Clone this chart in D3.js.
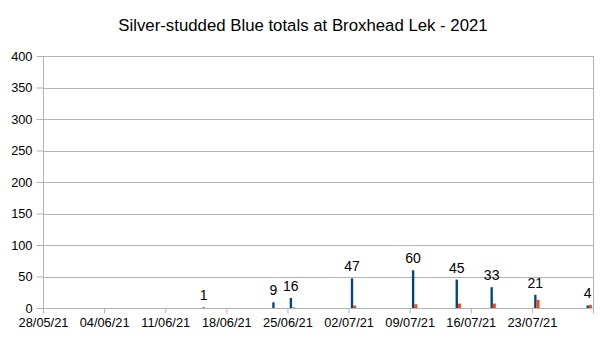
<!DOCTYPE html>
<html>
<head>
<meta charset="utf-8">
<script src="https://cdn.jsdelivr.net/npm/d3@7"></script>
<style>
  body { margin: 0; background: #fff; }
  svg text { font-family: "Liberation Sans", Arial, sans-serif; fill: #000; }
  .grid line, .axis line, .axis path { stroke: #b3b3b3; }
</style>
</head>
<body>
<div id="canvas"></div>
<script>
// counts per survey date
var dates = ["2021-06-15","2021-06-23","2021-06-25","2021-07-02","2021-07-09","2021-07-14","2021-07-18","2021-07-23","2021-07-29"];
var blueVals = [1, 9, 16, 47, 60, 45, 33, 21, 4];
var orangeVals = [0, 0, 1, 4, 6, 7, 7, 13, 5];
var yTicks = [0, 50, 100, 150, 200, 250, 300, 350, 400];
var xStart = "2021-05-28", xEnd = "2021-07-30";
var title = "Silver-studded Blue totals at Broxhead Lek - 2021";

var W = 604, H = 340;
var m = {t:56, r:11, b:32, l:43},
    w = W - m.l - m.r,
    h = H - m.t - m.b;

var parse = d3.utcParse("%Y-%m-%d"),
    fmt = d3.utcFormat("%d/%m/%y");

var svg = d3.select("#canvas").append("svg")
    .attr("width", W).attr("height", H);

svg.append("text")
    .attr("x", W/2 + 1).attr("y", 31)
    .attr("text-anchor", "middle")
    .style("font-size", "16.8px")
    .text(title);

var plot = svg.append("g")
    .attr("transform", "translate(" + m.l + "," + m.t + ")");

var x = d3.scaleUtc().domain([parse(xStart), parse(xEnd)]).range([0, w]);
var y = d3.scaleLinear().domain([0, 400]).range([h, 0]);

// gridlines
plot.append("g").attr("class", "grid")
    .selectAll("line").data(yTicks).enter().append("line")
    .attr("x1", 0).attr("x2", w)
    .attr("y1", function(d){ return Math.round(y(d)) + 0.5; })
    .attr("y2", function(d){ return Math.round(y(d)) + 0.5; });

// right border
plot.append("line")
    .attr("x1", w + 0.5).attr("x2", w + 0.5)
    .attr("y1", 0).attr("y2", h)
    .style("stroke", "#b3b3b3");

// y axis
var yAxis = plot.append("g").attr("class", "axis")
    .attr("transform", "translate(0.5,0)")
    .call(d3.axisLeft(y).tickValues(yTicks).tickSize(7).tickPadding(4));
yAxis.select(".domain").remove();
yAxis.append("line").attr("y1", 0).attr("y2", h).style("stroke", "#b3b3b3");
yAxis.selectAll("text").style("font-size", "12.8px");

// x axis, weekly ticks
var xTicks = d3.utcDay.range(parse(xStart), d3.utcDay.offset(parse(xEnd), 1), 7);
var xAxis = plot.append("g").attr("class", "axis")
    .attr("transform", "translate(0," + (h + 0.5) + ")")
    .call(d3.axisBottom(x).tickValues(xTicks).tickSize(5).tickPadding(4)
        .tickFormat(function(d, i){ return i < xTicks.length - 1 ? fmt(d) : ""; }));
xAxis.select(".domain").attr("d", "M0,0H" + w);
xAxis.selectAll("text").style("font-size", "12.8px");

var data = dates.map(function(d, i){
    return {date: parse(d), b: blueVals[i], o: orangeVals[i]};
});

var dayW = x(d3.utcDay.offset(parse(xStart), 1)) - x(parse(xStart));

var nodes = plot.selectAll(".node").data(data).enter()
    .append("g").attr("class", "node")
    .attr("transform", function(d){ return "translate(" + x(d.date) + ",0)"; });

nodes.append("rect")
    .attr("x", dayW * 0.26).attr("width", dayW * 0.27)
    .attr("y", function(d){ return y(d.b); })
    .attr("height", function(d){ return h - y(d.b); })
    .style("fill", "#004586");

nodes.append("rect")
    .attr("x", dayW * 0.53).attr("width", dayW * 0.34)
    .attr("y", function(d){ return y(d.o); })
    .attr("height", function(d){ return h - y(d.o); })
    .style("fill", "#ff420e");

nodes.append("text")
    .attr("x", dayW * 0.39)
    .attr("y", function(d){ return y(d.b) - 7; })
    .attr("text-anchor", "middle")
    .style("font-size", "14px")
    .text(function(d){ return d.b; });
</script>
</body>
</html>
